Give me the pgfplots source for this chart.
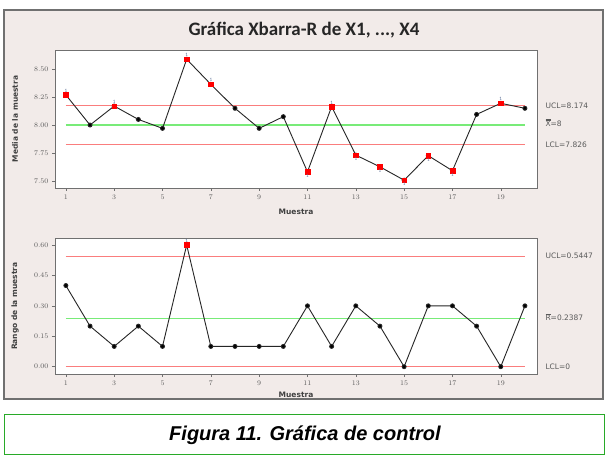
\documentclass[border=0pt]{standalone}
\usepackage{pgfplots}
\pgfplotsset{compat=1.18}
\usepackage{fontspec}
\setmainfont{Carlito}
\newfontfamily\capfont{Liberation Sans}
\newfontfamily\lblfont{DejaVu Sans}
\definecolor{bgpink}{RGB}{242,235,233}
\definecolor{framegray}{RGB}{112,112,112}
\definecolor{limred}{RGB}{250,125,125}
\definecolor{limgreen}{RGB}{120,235,120}
\definecolor{ticktext}{RGB}{90,90,90}
\definecolor{testblue}{RGB}{90,110,150}
\definecolor{capgreen}{RGB}{40,170,40}
\newcommand\overbars[2]{\setbox0\hbox{#2}\vbox{\ifnum#1>1 \hrule width \wd0 height 0.4pt \kern0.8pt\fi\hrule width \wd0 height 0.4pt \kern0.6pt\box0}}
\tikzset{rlab/.style={anchor=west, font=\lblfont\fontsize{7.5}{8}\selectfont, color=ticktext}}
\pgfplotsset{
  ccstyle/.style={
    scale only axis, width=482pt,
    xmin=0.55, xmax=20.5,
    xtick={1,3,...,19},
    xtick pos=bottom, ytick pos=left, tick align=outside,
    major tick length=3pt,
    axis line style={framegray, line width=0.8pt},
    tick style={framegray, line width=0.5pt},
    tick label style={font=\fontsize{7.5}{8}\selectfont, color=ticktext},
    yticklabel style={/pgf/number format/fixed, /pgf/number format/fixed zerofill, /pgf/number format/precision=2},
    axis background/.style={fill=white},
    xlabel={Muestra},
    xlabel style={font=\lblfont\bfseries\fontsize{7.5}{8}\selectfont, color=black!75, anchor=center},
    ylabel style={font=\lblfont\bfseries\fontsize{7.5}{8}\selectfont, color=black!75, at={(axis description cs:-0.083,0.5)}, anchor=center},
    clip=false,
  },
}
\begin{document}
\begin{tikzpicture}[x=1pt,y=1pt]
\fill[white] (0,0) rectangle (614,458);
\draw[framegray, line width=1.2pt, fill=bgpink] (4,59) rectangle (603,448);
\draw[capgreen, line width=1pt, fill=white] (4,3) rectangle (604,43);
\node[font=\capfont\bfseries\itshape\fontsize{20}{22}\selectfont] at (305,23) {Figura 11. Gráfica de control};
\node[font=\bfseries\fontsize{19}{21}\selectfont, color=black!85] at (304,428) {Gráfica Xbarra-R de X1, ..., X4};

\begin{axis}[ccstyle, at={(55pt,270pt)}, anchor=south west, height=138pt,
  ymin=7.435, ymax=8.673, ytick={7.50,7.75,8.00,8.25,8.50},
  ylabel={Media de la muestra},
  xlabel style={at={(axis description cs:0.5,-0.172)}}]
\addplot[limred, line width=1.4pt, forget plot] coordinates {(1,8.174) (20,8.174)};
\addplot[limred, line width=1.4pt, forget plot] coordinates {(1,7.826) (20,7.826)};
\addplot[limgreen, line width=1.4pt, forget plot] coordinates {(1,8) (20,8)};
\addplot[black!85, line width=0.9pt, mark=*, mark size=2pt, mark options={fill=black}] coordinates {
(1,8.27) (2,8.00) (3,8.17) (4,8.05) (5,7.97) (6,8.59) (7,8.365) (8,8.15) (9,7.97) (10,8.075)
(11,7.58) (12,8.165) (13,7.73) (14,7.625) (15,7.505) (16,7.725) (17,7.59) (18,8.095) (19,8.195) (20,8.15)};
\addplot[only marks, mark=square*, mark size=2.3pt, color=red, fill=red,
  nodes near coords, point meta=explicit symbolic,
  nodes near coords style={font=\fontsize{5}{5}\selectfont, color=testblue, anchor=south, yshift=-1pt}] coordinates {
(1,8.27)[1] (3,8.17)[1] (6,8.59)[1] (7,8.365)[1] (12,8.165)[1] (19,8.195)[1]};
\addplot[only marks, mark=square*, mark size=2.3pt, color=red, fill=red,
  nodes near coords, point meta=explicit symbolic,
  nodes near coords style={font=\fontsize{5}{5}\selectfont, color=testblue, anchor=north, yshift=1pt}] coordinates {
(11,7.58)[1] (13,7.73)[1] (14,7.625)[1] (15,7.505)[1] (16,7.725)[1] (17,7.59)[1]};
\node[rlab] at ([xshift=5pt]axis cs:20.5,8.174) {UCL=8.174};
\node[rlab] at ([xshift=5pt,yshift=2pt]axis cs:20.5,8.0) {\overbars{2}{X}=8};
\node[rlab] at ([xshift=5pt]axis cs:20.5,7.826) {LCL=7.826};
\end{axis}

\begin{axis}[ccstyle, at={(55pt,84pt)}, anchor=south west, height=135.7pt,
  ymin=-0.036, ymax=0.633, ytick={0,0.15,0.30,0.45,0.60},
  ylabel={Rango de la muestra},
  xlabel style={at={(axis description cs:0.5,-0.152)}}]
\addplot[limred, line width=1.4pt, forget plot] coordinates {(1,0.5447) (20,0.5447)};
\addplot[limred, line width=1.4pt, forget plot] coordinates {(1,0) (20,0)};
\addplot[limgreen, line width=1.4pt, forget plot] coordinates {(1,0.2387) (20,0.2387)};
\addplot[black!85, line width=0.9pt, mark=*, mark size=2pt, mark options={fill=black}] coordinates {
(1,0.40) (2,0.20) (3,0.10) (4,0.20) (5,0.10) (6,0.60) (7,0.10) (8,0.10) (9,0.10) (10,0.10)
(11,0.30) (12,0.10) (13,0.30) (14,0.20) (15,0.00) (16,0.30) (17,0.30) (18,0.20) (19,0.00) (20,0.30)};
\addplot[only marks, mark=square*, mark size=2.3pt, color=red, fill=red,
  nodes near coords, point meta=explicit symbolic,
  nodes near coords style={font=\fontsize{5}{5}\selectfont, color=testblue, anchor=south, yshift=-1pt}] coordinates {
(6,0.60)[1]};
\node[rlab] at ([xshift=5pt]axis cs:20.5,0.5447) {UCL=0.5447};
\node[rlab] at ([xshift=5pt,yshift=1pt]axis cs:20.5,0.2387) {\overbars{1}{R}=0.2387};
\node[rlab] at ([xshift=5pt]axis cs:20.5,0) {LCL=0};
\end{axis}
\end{tikzpicture}
\end{document}
